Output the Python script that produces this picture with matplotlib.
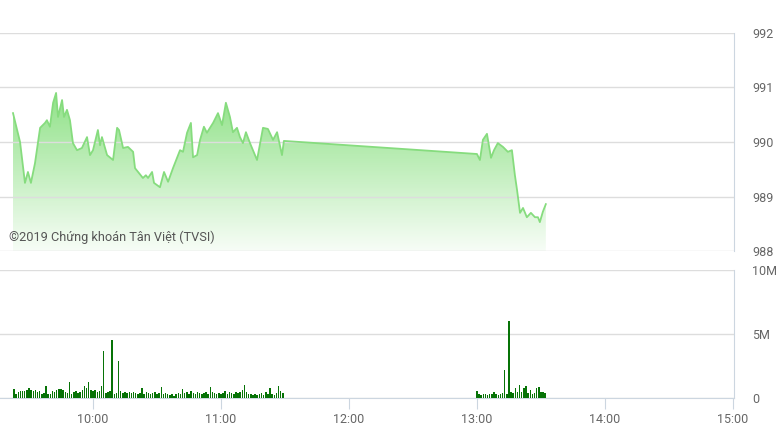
"""Intraday index chart with volume bars (price area on top, volume below)."""

import matplotlib

matplotlib.use("Agg")
import matplotlib.pyplot as plt
import numpy as np
from matplotlib.patches import Polygon

plt.rcParams["font.family"] = ["Roboto", "DejaVu Sans"]

# price points: minute of day, index value
price_min = [
    562.5, 565.8, 568.1, 569.5, 570.9, 572.8, 575.2, 577.5, 578.4, 579.8,
    581.3, 582.7, 583.6, 585.5, 586.4, 587.8, 589.2, 590.6, 592.5, 594.8,
    597.2, 598.6, 600.0, 602.3, 603.3, 604.2, 606.6, 609.4, 611.3, 612.2,
    614.1, 616.4, 618.8, 619.7, 623.4, 624.8, 625.8, 627.7, 628.6, 631.4,
    633.3, 635.2, 637.5, 640.8, 642.2, 644.1, 645.9, 646.9, 648.8, 650.2,
    652.0, 653.4, 656.3, 658.6, 660.5, 662.3, 664.2, 665.6, 667.5, 668.9,
    670.3, 671.7, 673.6, 676.9, 679.7, 682.0, 684.4, 686.3, 688.6, 689.5,
    780.0, 781.4, 782.8, 784.7, 786.6, 788.0, 789.8, 792.2, 794.5, 796.4,
    797.8, 798.8, 800.2, 801.6, 803.4, 805.3, 807.2, 808.6, 809.5, 810.9,
    812.3,
]
price_val = [
    990.53, 990.00, 989.25, 989.45, 989.25, 989.61, 990.26, 990.35, 990.40, 990.28,
    990.72, 990.90, 990.46, 990.77, 990.46, 990.59, 990.40, 989.98, 989.85, 989.89,
    990.09, 989.76, 989.85, 990.22, 989.94, 990.09, 989.76, 989.67, 990.26, 990.22,
    989.89, 989.91, 989.82, 989.52, 989.34, 989.39, 989.34, 989.45, 989.25, 989.17,
    989.45, 989.27, 989.52, 989.85, 989.82, 990.17, 990.35, 989.72, 989.76, 990.04,
    990.28, 990.17, 990.35, 990.53, 990.31, 990.72, 990.46, 990.18, 990.26, 990.09,
    989.98, 990.18, 989.98, 989.67, 990.26, 990.24, 990.04, 990.18, 989.76, 990.02,
    989.78, 989.67, 990.04, 990.15, 989.71, 989.85, 989.98, 989.91, 989.82, 989.85,
    989.39, 989.12, 988.70, 988.79, 988.62, 988.70, 988.62, 988.62, 988.53, 988.72,
    988.86,
]

# per-minute volume (millions), morning from 09:23, afternoon from 13:00
am_start = 563
am_vol = [
    0.73, 0.30, 0.47, 0.52, 0.52, 0.57, 0.65, 0.78, 0.65, 0.52,
    0.65, 0.47, 0.52, 0.31, 0.39, 0.94, 0.31, 0.31, 0.52, 0.47,
    0.65, 0.73, 0.73, 0.65, 0.47, 0.39, 1.25, 0.31, 0.47, 0.52,
    0.39, 0.47, 0.65, 0.91, 0.78, 1.25, 0.65, 0.52, 0.65, 0.47,
    0.52, 0.90, 3.70, 0.39, 0.47, 0.55, 4.50, 0.31, 0.39, 2.90,
    0.52, 0.39, 0.47, 0.39, 0.47, 0.39, 0.47, 0.39, 0.31, 0.39,
    0.78, 0.31, 0.47, 0.39, 0.31, 0.39, 0.47, 0.31, 0.39, 0.83,
    0.31, 0.39, 0.31, 0.21, 0.31, 0.13, 0.31, 0.39, 0.31, 0.73,
    0.39, 0.47, 0.31, 0.52, 0.39, 0.31, 0.47, 0.39, 0.31, 0.39,
    0.47, 0.31, 0.83, 0.47, 0.39, 0.31, 0.39, 0.31, 0.39, 0.52,
    0.31, 0.47, 0.39, 0.31, 0.47, 0.39, 0.47, 0.65, 1.02, 0.47,
    0.31, 0.31, 0.26, 0.31, 0.21, 0.31, 0.39, 0.21, 0.47, 0.31,
    0.78, 0.31, 0.26, 0.39, 0.91, 0.57, 0.39,
]
pm_start = 780
pm_vol = [
    0.57, 0.30, 0.25, 0.30, 0.35, 0.25, 0.35, 0.30, 0.47, 0.30,
    0.25, 0.35, 0.40, 2.20, 0.30, 6.00, 0.50, 0.40, 0.75, 0.50,
    1.00, 0.50, 0.75, 0.95, 0.40, 0.60, 0.30, 0.40, 0.75, 0.83,
    0.50, 0.50, 0.40,
]

price_ticks = [988, 989, 990, 991, 992]
vol_ticks = [0, 5, 10]
vol_labels = ["0", "5M", "10M"]
hour_ticks = [600, 660, 720, 780, 840, 900]
hour_labels = ["10:00", "11:00", "12:00", "13:00", "14:00", "15:00"]

GRID = "#dddddd"
AXIS = "#ccd6e0"
LABEL = "#666666"
XMIN, XMAX = 556.4, 900.5


def main() -> None:
    fig = plt.figure(figsize=(7.78, 4.37), dpi=100)
    ax = fig.add_axes([0.0, 0.4256, 0.9434, 0.4989])
    axv = fig.add_axes([0.0, 0.0892, 0.9434, 0.2929])

    x = np.array(price_min)
    y = np.array(price_val)
    lo, hi = price_ticks[0], price_ticks[-1]

    # gradient fill under the line, clipped to the area polygon
    grad = np.zeros((256, 2, 4))
    grad[..., 0], grad[..., 1], grad[..., 2] = 0.47, 0.86, 0.43
    grad[..., 3] = np.linspace(0.06, 0.85, 256)[:, None]
    img = ax.imshow(grad, extent=(x[0], x[-1], lo, 991.0), origin="lower",
                    aspect="auto", zorder=1, interpolation="bilinear")
    poly = Polygon(np.column_stack([np.r_[x[0], x, x[-1]], np.r_[lo, y, lo]]),
                   closed=True, facecolor="none", edgecolor="none")
    ax.add_patch(poly)
    img.set_clip_path(poly)
    ax.plot(x, y, color="#86dc7e", lw=1.3, zorder=3)

    ax.set_xlim(XMIN, XMAX)
    ax.set_ylim(lo, hi)
    ax.set_yticks(price_ticks)
    ax.set_xticks([])
    ax.yaxis.tick_right()
    ax.tick_params(axis="y", length=0, pad=13, labelsize=9, labelcolor=LABEL)
    ax.grid(axis="y", color=GRID, lw=1, zorder=2)
    ax.set_axisbelow(False)
    for side in ("left", "top", "bottom"):
        ax.spines[side].set_visible(False)
    ax.spines["right"].set_color(AXIS)
    ax.text(0.012, 0.045, "©2019 Chứng khoán Tân Việt (TVSI)", transform=ax.transAxes,
            fontsize=9.2, color="#555555", zorder=5)

    am_x = am_start + np.arange(len(am_vol))
    pm_x = pm_start + np.arange(len(pm_vol))
    for bx, bv in ((am_x, am_vol), (pm_x, pm_vol)):
        axv.bar(bx, bv, width=0.7, color="#077307", lw=0, antialiased=False, zorder=3)
    axv.set_xlim(XMIN, XMAX)
    axv.set_ylim(vol_ticks[0], vol_ticks[-1])
    axv.set_yticks(vol_ticks, vol_labels)
    axv.yaxis.tick_right()
    axv.tick_params(axis="y", length=0, pad=13, labelsize=9, labelcolor=LABEL)
    axv.set_xticks(hour_ticks, hour_labels)
    axv.tick_params(axis="x", length=8, color=AXIS, pad=3, labelsize=9, labelcolor=LABEL)
    axv.grid(axis="y", color=GRID, lw=1)
    for side in ("left", "top"):
        axv.spines[side].set_visible(False)
    axv.spines["right"].set_color(AXIS)
    axv.spines["bottom"].set_color(AXIS)

    fig.savefig("out.png", dpi=100)
    plt.close(fig)


if __name__ == "__main__":
    main()
